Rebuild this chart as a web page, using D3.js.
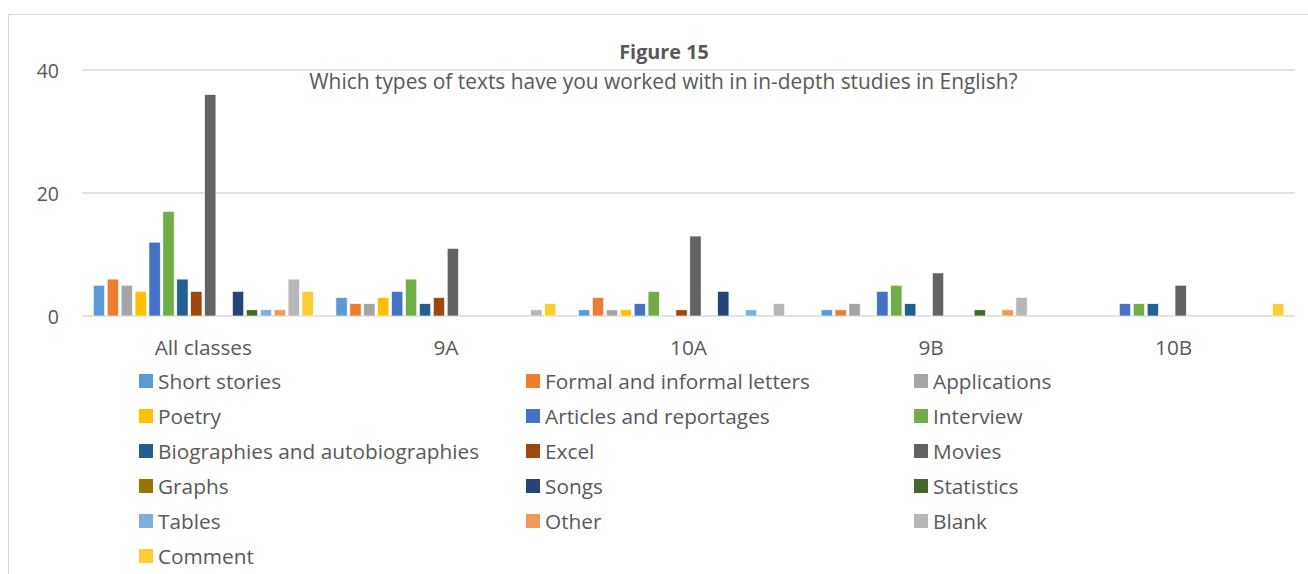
<!DOCTYPE html>
<html>
<head>
<meta charset="utf-8">
<script src="https://cdn.jsdelivr.net/npm/d3@7"></script>
<style>
  body { margin: 0; background: #fff; }
  svg text { font-family: "Open Sans", "Liberation Sans", sans-serif; fill: #595959; }
</style>
</head>
<body>
<svg id="chart" width="1308" height="574"></svg>
<script>
const categories = ["All classes", "9A", "10A", "9B", "10B"];
const seriesNames = [
  "Short stories", "Formal and informal letters", "Applications", "Poetry",
  "Articles and reportages", "Interview", "Biographies and autobiographies", "Excel",
  "Movies", "Graphs", "Songs", "Statistics", "Tables", "Other", "Blank", "Comment"
];
const seriesColors = [
  "#5B9BD5", "#ED7D31", "#A5A5A5", "#FFC000", "#4472C4", "#70AD47", "#255E91", "#9E480E",
  "#636363", "#997300", "#264478", "#43682B", "#7CAFDD", "#F1975A", "#B7B7B7", "#FFCD33"
];
// one array per series, values per category (All classes, 9A, 10A, 9B, 10B)
const shortStories = [5, 3, 1, 1, 0];
const formalLetters = [6, 2, 3, 1, 0];
const applications = [5, 2, 1, 2, 0];
const poetry = [4, 3, 1, 0, 0];
const articles = [12, 4, 2, 4, 2];
const interview = [17, 6, 4, 5, 2];
const biographies = [6, 2, 0, 2, 2];
const excel = [4, 3, 1, 0, 0];
const movies = [36, 11, 13, 7, 5];
const graphs = [0, 0, 0, 0, 0];
const songs = [4, 0, 4, 0, 0];
const statistics = [1, 0, 0, 1, 0];
const tables = [1, 0, 1, 0, 0];
const other = [1, 0, 0, 1, 0];
const blank = [6, 1, 2, 3, 0];
const comment = [4, 2, 0, 0, 2];
const yTicks = [0, 20, 40];

const seriesValues = [shortStories, formalLetters, applications, poetry, articles, interview,
  biographies, excel, movies, graphs, songs, statistics, tables, other, blank, comment];

const svg = d3.select("#chart");
const margin = { left: 82, right: 13, top: 70, bottom: 0 };
const plotRight = 1308 - margin.right;
const baseY = 316;

// chart border
svg.append("rect")
  .attr("x", 8.5).attr("y", 14.5)
  .attr("width", 1320).attr("height", 600)
  .attr("fill", "none").attr("stroke", "#d9d9d9");

const x0 = d3.scaleBand().domain(categories).range([margin.left, plotRight]);
const off = x0.bandwidth() * 0.0466;
const x1 = d3.scaleBand().domain(seriesNames)
  .range([off, x0.bandwidth() - off]).paddingInner(0.19);
const y = d3.scaleLinear().domain([0, 40]).range([baseY, margin.top]);

// gridlines
svg.append("g")
  .selectAll("line")
  .data(yTicks)
  .join("line")
  .attr("x1", margin.left).attr("x2", plotRight)
  .attr("y1", d => y(d)).attr("y2", d => y(d))
  .attr("stroke", "#d9d9d9").attr("stroke-width", 1.5);

// y labels
svg.append("g")
  .selectAll("text")
  .data(yTicks)
  .join("text")
  .attr("x", 59).attr("y", d => y(d))
  .attr("text-anchor", "end")
  .attr("dominant-baseline", "central")
  .style("font-size", "19.5px")
  .text(d => d);

// title
svg.append("text")
  .attr("x", 664).attr("y", 51)
  .attr("text-anchor", "middle").attr("dominant-baseline", "central")
  .style("font-size", "19.8px").style("font-weight", "bold")
  .text("Figure 15");
svg.append("text")
  .attr("x", 663.5).attr("y", 81)
  .attr("text-anchor", "middle").attr("dominant-baseline", "central")
  .style("font-size", "20.9px")
  .text("Which types of texts have you worked with in in-depth studies in English?");

// bars
const groups = svg.append("g")
  .selectAll("g")
  .data(categories)
  .join("g")
  .attr("transform", d => `translate(${x0(d)},0)`);

groups.selectAll("rect")
  .data((c, ci) => seriesNames.map((s, si) => ({ s, si, v: seriesValues[si][ci] })).filter(d => d.v > 0))
  .join("rect")
  .attr("x", d => x1(d.s))
  .attr("y", d => y(d.v))
  .attr("width", x1.bandwidth())
  .attr("height", d => baseY - y(d.v))
  .attr("fill", d => seriesColors[d.si])
  .attr("stroke", "#fff").attr("stroke-width", 0.6);

// category labels
svg.append("g")
  .selectAll("text")
  .data(categories)
  .join("text")
  .attr("x", d => x0(d) + x0.bandwidth() / 2)
  .attr("y", 347)
  .attr("text-anchor", "middle").attr("dominant-baseline", "central")
  .style("font-size", "20.8px")
  .text(d => d);

// legend
const legendCols = [139, 526, 914];
const legend = svg.append("g")
  .selectAll("g")
  .data(seriesNames)
  .join("g")
  .attr("transform", (d, i) => `translate(${legendCols[i % 3]},${381 + Math.floor(i / 3) * 35})`);
legend.append("rect")
  .attr("x", 0).attr("y", -7)
  .attr("width", 14).attr("height", 14)
  .attr("fill", (d, i) => seriesColors[i]);
legend.append("text")
  .attr("x", 19).attr("y", 0)
  .attr("dominant-baseline", "central")
  .style("font-size", "20.8px")
  .text(d => d);
</script>
</body>
</html>
